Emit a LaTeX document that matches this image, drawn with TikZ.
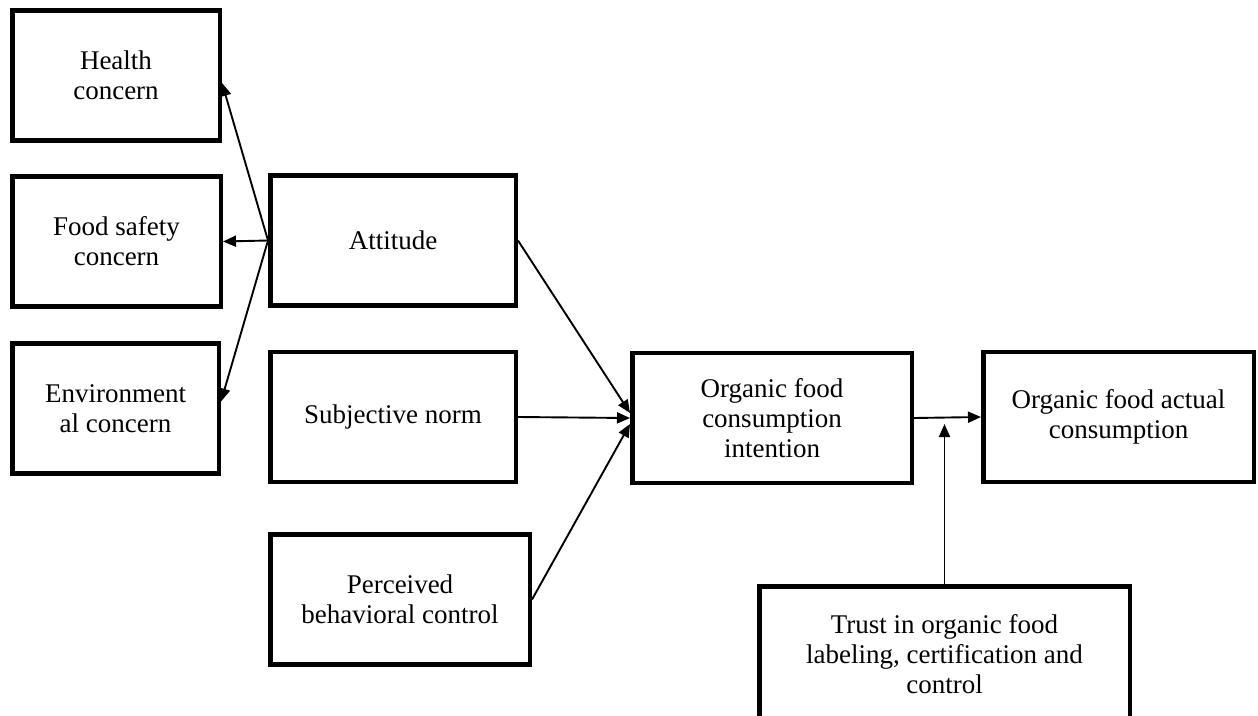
\documentclass[tikz,border=0pt]{standalone}
\usepackage{fontspec}
\setmainfont{Liberation Serif}
\usepackage{tikz}
\usetikzlibrary{shapes,arrows.meta}
\tikzstyle{construct}=[rectangle, draw, line width=4.5pt, align=center, minimum width=208pt, minimum height=130pt, inner sep=4pt, font=\fontsize{27}{30}\selectfont]
\tikzstyle{link}=[line width=1.9pt, -{Triangle[length=13pt,width=11pt]}]
\newcommand{\construct}[4]{
	\node[construct, minimum width=#3] (#1) at (#2) {#4};}

\begin{document}
\begin{tikzpicture}[x=1pt,y=1pt]
\clip (0,0) rectangle (1258,-715);

\construct{health}{116,-75.5}{207.5pt}{Health\\concern}
\construct{safety}{116.5,-241.5}{208.5pt}{Food safety\\concern}
\construct{environ}{115.5,-408.5}{206.5pt}{Environment\\al concern}

\construct{attitude}{393,-240.5}{245.5pt}{Attitude}
\construct{subjective}{393,-417}{245.5pt}{Subjective norm}
\construct{perceived}{400,-599.5}{259.5pt}{Perceived\\behavioral control}

\construct{intention}{772,-418}{279.5pt}{Organic food\\consumption\\intention}
\construct{actual}{1118.5,-417}{270.5pt}{Organic food actual\\consumption}
\node[construct, minimum width=370.5pt, minimum height=135.5pt] (trust) at (944.5,-654) {Trust in organic food\\labeling, certification and\\control};

\path[link] (attitude.west) edge ([yshift=-7.5pt]health.east);
\path[link] (attitude.west) edge (safety.east);
\path[link] (attitude.west) edge ([yshift=7pt]environ.east);
\path[link] (attitude.east) edge ([yshift=5pt]intention.west);
\path[link] (subjective.east) edge (intention.west);
\path[link] (perceived.east) edge ([yshift=-6pt]intention.west);
\path[link] (intention.east) edge (actual.west);
\coordinate (moderation) at ([yshift=-6pt]intention.east -| trust.north);
\path[link] (trust.north) edge (moderation);
\end{tikzpicture}
\end{document}
